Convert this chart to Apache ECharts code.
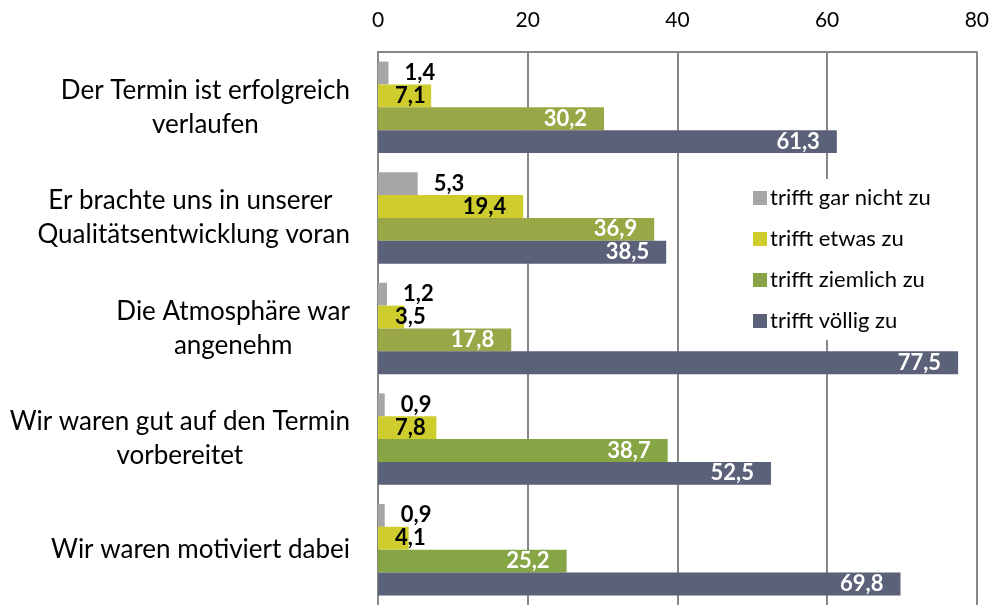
<!DOCTYPE html>
<html>
<head>
<meta charset="utf-8">
<script src="https://cdn.jsdelivr.net/npm/echarts@6/dist/echarts.min.js"></script>
<style>
html,body{margin:0;padding:0;background:#fff;}
#chart{width:992px;height:605px;}
</style>
</head>
<body>
<div id="chart"></div>
<script>
const categories = [
  "Der Termin ist erfolgreich\nverlaufen",
  "Er brachte uns in unserer \nQualitätsentwicklung voran",
  "Die Atmosphäre war\nangenehm",
  "Wir waren gut auf den Termin\nvorbereitet",
  "Wir waren motiviert dabei"
];
const seriesNames = ["trifft gar nicht zu", "trifft etwas zu", "trifft ziemlich zu", "trifft völlig zu"];
const garNicht = [1.4, 5.3, 1.2, 0.9, 0.9];
const etwas = [7.1, 19.4, 3.5, 7.8, 4.1];
const ziemlich = [30.2, 36.9, 17.8, 38.7, 25.2];
const voellig = [61.3, 38.5, 77.5, 52.5, 69.8];
const xTicks = [0, 20, 40, 60, 80];

const colors = ["#a6a6a6", "#cfcd2d", "#86a645", "#5b6179"];
const ziemlichShade = ["#9aa746", "#9aa746", "#9aa746", null, null];

const FONT = "Lato";
const labelBase = { show: true, fontFamily: FONT, fontWeight: 'bold', fontSize: 22, formatter: p => Number(p.value).toFixed(1).replace('.', ',') };

function yellowData() {
  return etwas.map(v => {
    if (v < 8.3) {
      return { value: v, label: { position: [17, '50%'], align: 'left', verticalAlign: 'middle' } };
    }
    return { value: v };
  });
}

const option = {
  animation: false,
  backgroundColor: '#fff',
  grid: { left: 378, top: 52, width: 601, height: 557, containLabel: false },
  xAxis: {
    type: 'value', position: 'top', min: 0, max: 80, interval: 20,
    axisLine: { show: true, lineStyle: { color: '#878787', width: 2 } },
    axisTick: { show: false },
    splitLine: { show: true, lineStyle: { color: '#878787', width: 2 } },
    axisLabel: { fontFamily: FONT, fontSize: 21, color: '#000', margin: 21,
      formatter: v => xTicks.includes(v) ? String(v) : '' }
  },
  yAxis: {
    type: 'category', data: categories, inverse: true,
    axisLine: { show: true, lineStyle: { color: '#878787', width: 2 } },
    axisTick: { show: false },
    axisLabel: {
      margin: 28, align: 'right',
      formatter: v => v.split('\n').map(l => '{c|' + l + '}').join('\n'),
      rich: { c: { align: 'center', fontFamily: FONT, fontSize: 26, color: '#000', lineHeight: 34 } }
    }
  },
  legend: {
    orient: 'vertical', left: 743, top: 179,
    padding: [8, 10, 8, 10],
    backgroundColor: '#fff',
    itemWidth: 14, itemHeight: 14, itemGap: 19, icon: 'rect',
    textStyle: { fontFamily: FONT, fontSize: 22, color: '#000', lineHeight: 20, padding: [0, 0, 0, -2] },
    data: seriesNames
  },
  series: [
    { name: seriesNames[0], type: 'bar', data: garNicht, barGap: '0%', barCategoryGap: '17.3%',
      itemStyle: { color: colors[0] },
      label: Object.assign({}, labelBase, { position: 'right', distance: 16, color: '#000' }) },
    { name: seriesNames[1], type: 'bar', data: yellowData(), barGap: '0%', barCategoryGap: '17.3%',
      itemStyle: { color: colors[1] },
      label: Object.assign({}, labelBase, { position: 'insideRight', distance: 17, color: '#000' }) },
    { name: seriesNames[2], type: 'bar', barGap: '0%', barCategoryGap: '17.3%',
      data: ziemlich.map((v, i) => ziemlichShade[i] ? { value: v, itemStyle: { color: ziemlichShade[i] } } : { value: v }),
      itemStyle: { color: colors[2] },
      label: Object.assign({}, labelBase, { position: 'insideRight', distance: 17, color: '#fff' }) },
    { name: seriesNames[3], type: 'bar', data: voellig, barGap: '0%', barCategoryGap: '17.3%',
      itemStyle: { color: colors[3] },
      label: Object.assign({}, labelBase, { position: 'insideRight', distance: 17, color: '#fff' }) }
  ]
};

const chart = echarts.init(document.getElementById('chart'), null, { renderer: 'canvas' });
chart.setOption(option);
</script>
</body>
</html>
